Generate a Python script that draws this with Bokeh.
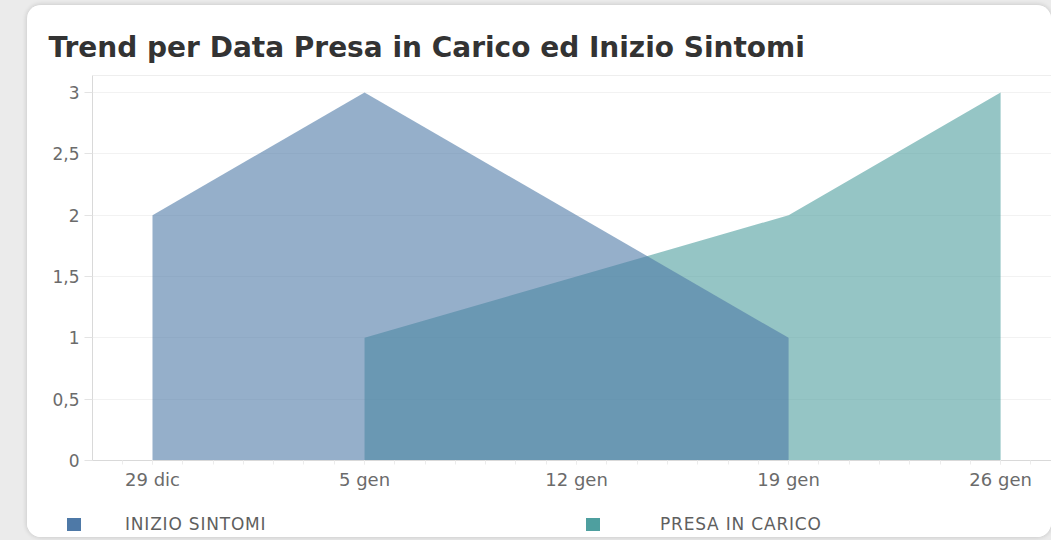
from bokeh.plotting import figure
from bokeh.models import (Range1d, FixedTicker, Span, Div)
from bokeh.layouts import column
from bokeh.embed import file_html
from bokeh.resources import INLINE
import numpy as np

# ---- data ----
week_labels = ["29 dic", "5 gen", "12 gen", "19 gen", "26 gen"]
inizio_x = [0, 1, 3]          # week index
inizio_y = [2, 3, 1]
presa_x = [1, 3, 4]
presa_y = [1, 2, 3]
y_ticks = [0, 0.5, 1, 1.5, 2, 2.5, 3]
y_tick_labels = ["0", "0,5", "1", "1,5", "2", "2,5", "3"]
series_names = ["INIZIO SINTOMI", "PRESA IN CARICO"]
colors = ["#4e79a7", "#4e9f9f"]
title_text = "Trend per Data Presa in Carico ed Inizio Sintomi"

FRAME_L, FRAME_T, FRAME_B = 65, 70, 455
W, H1, H2 = 1024, 505, 27

p = figure(width=W, height=H1, output_backend="svg", toolbar_location=None,
           x_range=Range1d(-0.283, 4.24), y_range=Range1d(0, 3.139),
           min_border_left=FRAME_L, min_border_top=FRAME_T,
           min_border_bottom=H1 - FRAME_B, min_border_right=0)
p.background_fill_color = "white"
p.border_fill_color = "white"
p.outline_line_color = None

# title
p.title.text = title_text
p.title.align = "left"
p.title.offset = 21 - FRAME_L
p.title.standoff = 23
p.title.text_font = "DejaVu Sans"
p.title.text_font_style = "bold"
p.title.text_font_size = "28px"
p.title.text_color = "#333333"

# areas (teal first, blue on top)
p.varea(x=presa_x, y1=[0] * len(presa_x), y2=presa_y, fill_color=colors[1], fill_alpha=0.6)
p.varea(x=inizio_x, y1=[0] * len(inizio_x), y2=inizio_y, fill_color=colors[0], fill_alpha=0.6)

# top border line of plot area
p.add_layout(Span(location=p.y_range.end, dimension="width", line_color="#dddddd", line_width=1))

# axes
xa = p.xaxis[0]
xa.ticker = FixedTicker(ticks=list(range(len(week_labels))),
                        minor_ticks=list(np.arange(-2, 31) / 7.0))
xa.major_label_overrides = {i: lab for i, lab in enumerate(week_labels)}
xa.axis_line_color = "#d9d9d9"
xa.major_tick_line_color = "#ececec"
xa.minor_tick_line_color = "#ececec"
xa.major_tick_out = 4
xa.major_tick_in = 0
xa.minor_tick_out = 4
xa.minor_tick_in = 0
xa.major_label_standoff = 4
xa.major_label_text_font = "DejaVu Sans"
xa.major_label_text_font_size = "18px"
xa.major_label_text_color = "#6b6b6b"

ya = p.yaxis[0]
ya.ticker = FixedTicker(ticks=y_ticks)
ya.major_label_overrides = {t: l for t, l in zip(y_ticks, y_tick_labels)}
ya.axis_line_color = "#d9d9d9"
ya.major_tick_line_color = "#e3e3e3"
ya.major_tick_out = 8
ya.major_tick_in = 0
ya.minor_tick_line_color = None
ya.major_label_standoff = 5
ya.major_label_text_font = "DejaVu Sans"
ya.major_label_text_font_size = "17px"
ya.major_label_text_color = "#6b6b6b"

p.xgrid.grid_line_color = None
p.ygrid.grid_line_color = "#f2f2f2"

# legend strip (HTML)
swatch_left = [40, 559]
label_left = [98, 633]
parts = []
for name, col, sl, ll in zip(series_names, colors, swatch_left, label_left):
    parts.append(f'<span style="position:absolute;left:{sl}px;top:8px;width:14px;height:13px;'
                 f'background:{col};"></span>')
    parts.append(f'<span style="position:absolute;left:{ll}px;top:5px;line-height:18px;'
                 f'white-space:nowrap;">{name}</span>')
legend_div = Div(text="".join(parts), width=W, height=H2,
                 styles={"position": "relative", "font-family": "'DejaVu Sans'",
                         "font-size": "17px", "letter-spacing": "0.8px",
                         "color": "#5f5f5f", "background": "white", "margin": "0"})

card = column(p, legend_div, spacing=0, width=W,
              styles={"border-radius": "14px", "box-shadow": "0 0 4px 1px rgba(0,0,0,0.13)",
                      "overflow": "hidden", "background": "white"})

html = file_html(card, INLINE)
html = html.replace("</head>",
    "<style>html,body{background:#ebebeb !important;overflow:hidden !important;}"
    "body{margin:0 !important;padding:5px 0 0 27px !important;}</style></head>")
open("out.html", "w").write(html)
